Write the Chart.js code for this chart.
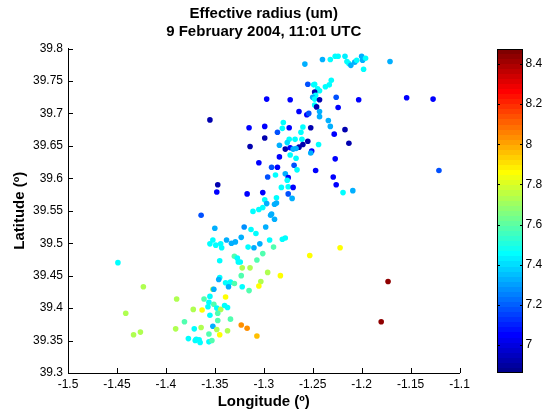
<!DOCTYPE html>
<html><head><meta charset="utf-8">
<script src="https://cdn.jsdelivr.net/npm/chart.js"></script>
<style>html,body{margin:0;padding:0;background:#fff}canvas{display:block}</style>
</head><body>
<canvas id="c" width="545" height="415"></canvas>
<script>
// Longitude (deg) of each retrieval
const lon = [
-1.258,-1.240,-1.232,-1.227,-1.224,-1.217,-1.215,-1.213,-1.211,-1.207,-1.205,-1.200,-1.199,-1.196,-1.198,-1.171,
-1.255,-1.249,-1.248,-1.231,-1.233,-1.237,-1.245,-1.243,-1.248,-1.247,-1.250,-1.248,-1.243,-1.297,-1.273,-1.226,
-1.203,-1.154,-1.127,-1.248,-1.246,-1.224,-1.264,-1.256,-1.254,-1.243,-1.243,-1.234,-1.232,-1.355,-1.315,-1.299,
-1.280,-1.281,-1.274,-1.286,-1.260,-1.252,-1.262,-1.217,-1.228,-1.299,-1.314,-1.274,-1.268,-1.261,-1.276,-1.255,
-1.260,-1.244,-1.264,-1.284,-1.278,-1.273,-1.270,-1.267,-1.251,-1.252,-1.213,-1.273,-1.267,-1.284,-1.227,-1.305,
-1.292,-1.286,-1.269,-1.266,-1.247,-1.121,-1.296,-1.288,-1.278,-1.275,-1.276,-1.229,-1.226,-1.347,-1.348,-1.317,
-1.301,-1.282,-1.275,-1.270,-1.275,-1.219,-1.209,-1.287,-1.271,-1.299,-1.297,-1.289,-1.287,-1.301,-1.305,-1.311,
-1.293,-1.292,-1.289,-1.364,-1.350,-1.320,-1.313,-1.298,-1.308,-1.323,-1.338,-1.352,-1.294,-1.281,-1.278,-1.355,
-1.349,-1.344,-1.343,-1.333,-1.329,-1.316,-1.310,-1.304,-1.290,-1.301,-1.330,-1.327,-1.326,-1.324,-1.307,-1.345,
-1.449,-1.253,-1.222,-1.322,-1.314,-1.296,-1.283,-1.323,-1.345,-1.346,-1.339,-1.336,-1.334,-1.336,-1.330,-1.322,
-1.315,-1.303,-1.305,-1.173,-1.180,-1.423,-1.352,-1.351,-1.355,-1.361,-1.339,-1.389,-1.372,-1.363,-1.356,-1.351,
-1.357,-1.348,-1.344,-1.340,-1.337,-1.355,-1.347,-1.347,-1.381,-1.334,-1.441,-1.352,-1.371,-1.364,-1.348,-1.337,
-1.323,-1.317,-1.307,-1.390,-1.433,-1.426,-1.356,-1.345,-1.377,-1.370,-1.369,-1.366,-1.365,-1.356,-1.353
];
// Latitude (deg) of each retrieval
const lat = [
39.776,39.783,39.783,39.788,39.788,39.788,39.780,39.777,39.774,39.779,39.782,39.788,39.782,39.785,39.768,39.780,
39.745,39.744,39.745,39.751,39.744,39.741,39.738,39.735,39.733,39.728,39.725,39.722,39.721,39.722,39.721,39.725,
39.721,39.724,39.722,39.713,39.710,39.709,39.703,39.698,39.700,39.703,39.695,39.689,39.680,39.690,39.678,39.680,
39.686,39.677,39.678,39.671,39.679,39.678,39.671,39.675,39.668,39.662,39.649,39.660,39.660,39.660,39.655,39.657,
39.652,39.652,39.648,39.651,39.645,39.647,39.645,39.646,39.642,39.639,39.654,39.636,39.631,39.633,39.630,39.624,
39.617,39.617,39.620,39.613,39.612,39.612,39.602,39.605,39.607,39.601,39.597,39.602,39.590,39.590,39.579,39.576,
39.578,39.586,39.587,39.586,39.576,39.578,39.581,39.570,39.569,39.567,39.561,39.560,39.562,39.555,39.552,39.549,
39.543,39.545,39.537,39.543,39.523,39.525,39.521,39.525,39.515,39.509,39.505,39.505,39.505,39.506,39.508,39.499,
39.497,39.499,39.493,39.500,39.502,39.494,39.493,39.499,39.494,39.484,39.480,39.477,39.471,39.471,39.474,39.473,
39.470,39.481,39.493,39.462,39.462,39.455,39.450,39.450,39.447,39.444,39.439,39.438,39.440,39.433,39.438,39.433,
39.427,39.441,39.434,39.441,39.379,39.433,39.429,39.429,39.418,39.414,39.417,39.414,39.398,39.397,39.409,39.406,
39.402,39.400,39.398,39.404,39.401,39.389,39.392,39.381,39.379,39.383,39.392,39.372,39.368,39.370,39.367,39.365,
39.374,39.369,39.357,39.368,39.359,39.363,39.360,39.359,39.353,39.350,39.352,39.351,39.347,39.348,39.350
];
// Effective radius (um) of each retrieval
const reff = [
7.32,7.32,7.45,7.45,7.45,7.42,7.45,7.45,7.32,7.32,7.45,7.32,7.32,7.45,7.45,7.32,
7.18,7.45,7.45,7.45,7.45,7.45,7.45,7.45,6.92,7.45,7.32,7.45,6.92,7.05,7.05,7.18,
7.05,7.05,7.05,7.45,6.92,7.05,7.05,7.05,7.18,7.32,7.32,7.32,7.32,6.92,7.05,7.05,
7.45,7.45,7.05,7.18,7.45,6.92,7.45,6.92,7.05,6.92,6.92,7.45,7.45,7.45,7.40,6.92,
6.92,7.45,6.92,7.32,6.92,7.05,7.32,7.32,7.05,7.32,6.92,7.45,7.45,7.05,7.05,7.05,
7.18,7.05,7.18,7.45,7.05,7.18,7.18,7.45,7.32,7.05,7.45,7.05,7.05,6.92,7.05,7.05,
7.05,7.45,7.45,7.05,7.18,7.45,7.32,7.45,7.32,7.45,7.32,7.32,7.32,7.45,7.45,7.45,
7.32,7.32,7.32,7.18,7.32,7.28,7.45,7.32,7.45,7.32,7.32,7.45,7.45,7.45,7.45,7.45,
7.45,7.45,7.45,7.32,7.32,7.45,7.32,7.32,7.58,7.58,7.58,7.45,7.45,7.45,7.58,7.45,
7.45,7.87,7.87,7.72,7.72,7.72,7.87,7.58,7.45,7.32,7.45,7.45,7.45,7.32,7.58,7.45,
7.58,7.72,7.87,8.45,8.45,7.72,7.72,7.32,7.45,7.58,7.87,7.72,7.72,7.87,7.45,7.58,
7.45,7.45,7.72,7.45,7.45,7.45,7.58,7.58,7.58,7.58,7.72,7.32,7.45,7.72,7.72,7.72,
8.03,8.03,7.95,7.72,7.72,7.72,7.58,7.87,7.45,7.45,7.45,7.45,7.45,7.45,7.58
];
const xTicks = [-1.5,-1.45,-1.4,-1.35,-1.3,-1.25,-1.2,-1.15,-1.1];
const yTicks = [39.3,39.35,39.4,39.45,39.5,39.55,39.6,39.65,39.7,39.75,39.8];
const cbTicks = [7,7.2,7.4,7.6,7.8,8,8.2,8.4];
const cMin = 6.861, cMax = 8.477;

const FONT = '"Liberation Sans", Arial, Helvetica, sans-serif';

function jetIdx(i){
  const s = (i + 1) / 64;
  const f = x => Math.max(0, Math.min(1, x));
  const r = f(1.5 - Math.abs(4*s - 3)), g = f(1.5 - Math.abs(4*s - 2)), b = f(1.5 - Math.abs(4*s - 1));
  return 'rgb(' + Math.round(r*255) + ',' + Math.round(g*255) + ',' + Math.round(b*255) + ')';
}
function jet(v){
  let i = Math.floor((v - cMin) / (cMax - cMin) * 64);
  i = Math.max(0, Math.min(63, i));
  return jetIdx(i);
}
const fmt = v => String(Math.round(v * 100) / 100);

const points = lon.map((x, i) => ({x: x, y: lat[i]}));
const colors = reff.map(jet);

const axesPlugin = {
  id: 'matlabAxes',
  afterDraw(chart){
    const ctx = chart.ctx, xs = chart.scales.x, ys = chart.scales.y, cs = chart.scales.cb;
    const a = chart.chartArea;
    ctx.save();
    ctx.strokeStyle = '#000';
    ctx.lineWidth = 1;
    ctx.beginPath();
    xTicks.forEach(v => { const p = Math.round(xs.getPixelForValue(v)) + 0.5; ctx.moveTo(p, a.bottom); ctx.lineTo(p, a.bottom - 5); });
    yTicks.forEach(v => { const p = Math.round(ys.getPixelForValue(v)) + 0.5; ctx.moveTo(a.left, p); ctx.lineTo(a.left + 5, p); });
    ctx.stroke();
    // colour bar
    const x0 = Math.round(a.right + 37), w = 26;
    for (let i = 0; i < 64; i++){
      const v0 = cMin + i * (cMax - cMin) / 64, v1 = cMin + (i + 1) * (cMax - cMin) / 64;
      const y0 = Math.round(cs.getPixelForValue(v0)), y1 = Math.round(cs.getPixelForValue(v1));
      ctx.fillStyle = jetIdx(i);
      ctx.fillRect(x0, y1, w, y0 - y1);
    }
    const top = Math.round(cs.top), bot = Math.round(cs.bottom);
    ctx.strokeRect(x0 + 0.5, top + 0.5, w - 1, bot - top - 1);
    ctx.beginPath();
    cbTicks.forEach(v => {
      const p = Math.round(cs.getPixelForValue(v)) + 0.5;
      ctx.moveTo(x0, p); ctx.lineTo(x0 + 3, p);
      ctx.moveTo(x0 + w, p); ctx.lineTo(x0 + w - 3, p);
    });
    ctx.stroke();
    ctx.restore();
  }
};

new Chart(document.getElementById('c'), {
  type: 'scatter',
  data: { datasets: [{ data: points, backgroundColor: colors, pointBackgroundColor: colors, pointRadius: 2.8, pointBorderWidth: 0, borderWidth: 0 }] },
  options: {
    responsive: false,
    animation: false,
    devicePixelRatio: 1,
    events: [],
    layout: { padding: { left: 0, right: 0, top: 0, bottom: 0 } },
    plugins: {
      legend: { display: false },
      tooltip: { enabled: false },
      title: {
        display: true,
        fullSize: false,
        text: ['Effective radius (um)', '9 February 2004, 11:01 UTC'],
        color: '#000',
        font: { family: FONT, size: 15, weight: 'bold', lineHeight: 1.18 },
        padding: { top: 5.15, bottom: 7.95 }
      }
    },
    scales: {
      x: {
        type: 'linear', position: 'bottom', min: -1.5, max: -1.1,
        grid: { display: false, drawTicks: false },
        border: { display: true, color: '#000', width: 1 },
        ticks: { color: '#000', font: { family: FONT, size: 12 }, padding: 4, autoSkip: false, maxRotation: 0, callback: v => fmt(v) },
        afterBuildTicks: s => { s.ticks = xTicks.map(v => ({ value: v })); },
        afterFit: s => { s.height = 42; s.paddingLeft = 12; s.paddingRight = 12; },
        title: { display: true, text: 'Longitude (º)', color: '#000', font: { family: FONT, size: 15, weight: 'bold', lineHeight: 1.2 }, padding: { top: 0, bottom: 4.1 } }
      },
      y: {
        type: 'linear', position: 'left', min: 39.3, max: 39.8,
        grid: { display: false, drawTicks: false },
        border: { display: true, color: '#000', width: 1 },
        ticks: { color: '#000', font: { family: FONT, size: 12 }, padding: 5, autoSkip: false, callback: v => fmt(v) },
        afterBuildTicks: s => { s.ticks = yTicks.map(v => ({ value: v })); },
        afterFit: s => { s.width = 68; s.paddingTop = 8; s.paddingBottom = 8; },
        title: { display: true, text: 'Latitude (º)', color: '#000', font: { family: FONT, size: 15, weight: 'bold', lineHeight: 1.2 }, padding: { top: 11, bottom: 0 } }
      },
      cb: {
        type: 'linear', position: 'right', min: cMin, max: cMax,
        grid: { display: false, drawTicks: false },
        border: { display: false },
        ticks: { color: '#000', font: { family: FONT, size: 12 }, padding: 66, autoSkip: false, callback: v => fmt(v) },
        afterBuildTicks: s => { s.ticks = cbTicks.map(v => ({ value: v })); },
        afterFit: s => { s.width = 85.5; s.paddingTop = 8; s.paddingBottom = 8; }
      }
    }
  },
  plugins: [axesPlugin]
});
</script>
</body></html>
